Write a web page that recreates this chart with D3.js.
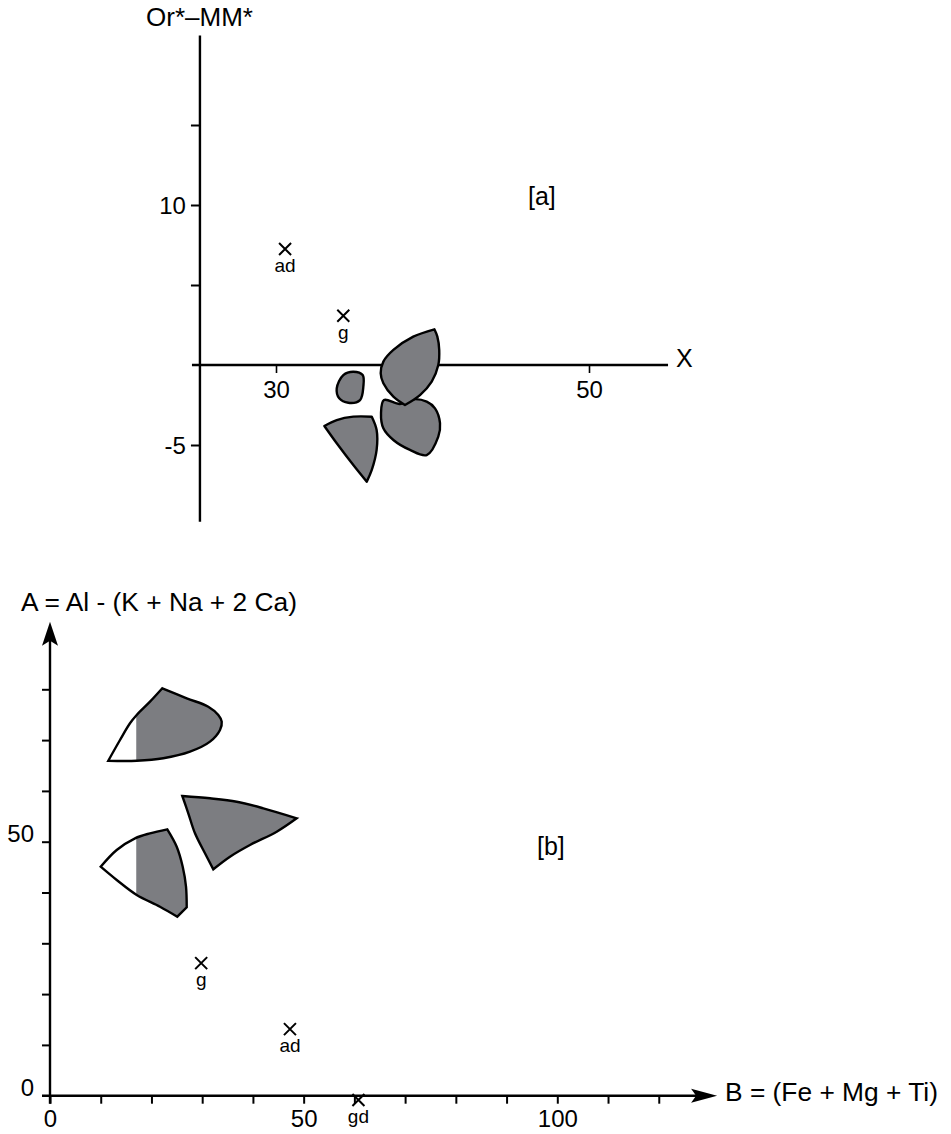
<!DOCTYPE html>
<html>
<head>
<meta charset="utf-8">
<script src="https://cdn.jsdelivr.net/npm/d3@7/dist/d3.min.js"></script>
<style>
  html, body { margin: 0; padding: 0; background: #fff; }
  svg { display: block; }
</style>
</head>
<body>
<svg id="chart" width="951" height="1134"></svg>
<script>
// ---------------- DATA ----------------
// Panel [a]
const aYTicks = [15, 10, 5, -5];
const aYTickLabels = [10, -5];
const aXTicks = [30, 50];
const aXTickLabels = [30, 50];
const aPointNames = ["ad", "g"];
const aPointX = [30.58, 34.3];
const aPointY = [7.25, 3.08];
// Blobs (edges of outlines, in data units X / Or*-MM*)
const aBlobUpper = [
  [[40.12, 2.23], [38.77, 1.77], [37.5, 0.94], [36.86, 0.21], [36.69, -0.52], [36.86, -1.14], [37.5, -1.98], [38.24, -2.5]],
  [[38.24, -2.5], [39.2, -1.88], [39.95, -1.04], [40.37, 0], [40.43, 0.94], [40.31, 1.77], [40.12, 2.23]]
];
const aBlobLowerRight = [[36.9, -2.19], [37.92, -2.44], [38.77, -2.14], [39.63, -2.29], [40.16, -2.71], [40.48, -3.64], [40.37, -4.48], [39.63, -5.63], [38.56, -5.31], [37.5, -4.69], [36.86, -3.96], [36.71, -3.02]];
const aBlobSmall = [[33.88, -1.46], [34.3, -0.63], [34.94, -0.42], [35.54, -0.63], [35.58, -1.36], [35.37, -2.19], [34.62, -2.36], [34.04, -2.08]];
const aBlobTriangle = [
  [[33.09, -3.81], [33.88, -3.44], [34.94, -3.23], [36.12, -3.23]],
  [[36.12, -3.23], [36.43, -4.06], [36.43, -5.31], [36.12, -6.56], [35.8, -7.29]],
  [[35.8, -7.29], [34.94, -6.25], [33.88, -4.89], [33.09, -3.81]]
];

// Panel [b]
const bYTicks = [0, 10, 20, 30, 40, 50, 60, 70, 80];
const bYTickLabels = [0, 50];
const bXTicks = [0, 10, 20, 30, 40, 50, 60, 70, 80, 90, 100, 110, 120];
const bXTickLabels = [0, 50, 100];
const bPointNames = ["g", "ad", "gd"];
const bPointX = [29.8, 47.3, 60.8];
const bPointY = [26.1, 13.1, -0.85];
const bSplitX = 17; // white part of the two split fields lies left of this B value
const bBlobTop = [
  [[22.14, 80.2], [26.95, 78.23], [31.2, 76.57], [33.18, 74.94], [33.85, 73.62], [33.51, 71.99], [31.54, 69.69], [27.6, 67.72], [22.33, 66.42], [17.09, 65.94], [11.49, 65.94]],
  [[11.49, 65.94], [13.8, 70.02], [15.77, 73.31], [17.09, 74.94], [19.71, 77.56], [22.14, 80.2]]
];
const bBlobMid = [
  [[26.08, 59.0], [31.54, 58.54], [36.8, 57.87], [42.05, 56.57], [48.63, 54.61]],
  [[48.63, 54.61], [44.69, 51.97], [39.42, 49.35], [35.48, 47.05], [32.19, 44.57]],
  [[32.19, 44.57], [30.55, 47.72], [28.58, 51.65], [27.26, 55.59], [26.08, 59.0]]
];
const bBlobLow = [
  [[23.12, 52.44], [19.71, 51.65], [16.76, 50.67], [13.15, 48.37], [9.99, 45.08]],
  [[9.99, 45.08], [13.15, 42.46], [17.09, 39.51], [21.68, 37.2], [25.09, 35.24]],
  [[25.09, 35.24], [26.95, 37.09]],
  [[26.95, 37.09], [26.81, 41.14], [26.16, 45.08], [24.98, 49.02], [23.12, 52.44]]
];

// ---------------- STYLE ----------------
const FONT = "'Liberation Sans', Arial, Helvetica, sans-serif";
const FILL = "#7c7d81";
const INK = "#000";

const svg = d3.select("#chart");

function edgesPath(edges, x, y) {
  const line = d3.line().x(d => x(d[0])).y(d => y(d[1])).curve(d3.curveCatmullRom.alpha(0.5));
  let s = "";
  edges.forEach((e, i) => {
    let p = line(e);
    if (i > 0) p = "L" + p.slice(1);
    s += p;
  });
  return s + "Z";
}
function closedPath(pts, x, y) {
  return d3.line().x(d => x(d[0])).y(d => y(d[1])).curve(d3.curveCatmullRomClosed.alpha(0.5))(pts);
}
function cross(g, cx, cy, r) {
  g.append("path")
    .attr("d", `M${cx - r},${cy - r}L${cx + r},${cy + r}M${cx - r},${cy + r}L${cx + r},${cy - r}`)
    .attr("stroke", INK).attr("stroke-width", 2).attr("fill", "none");
}

// ---------------- PANEL [a] ----------------
const xA = d3.scaleLinear().domain([30, 50]).range([276, 589]);
const yA = d3.scaleLinear().domain([0, 10]).range([365, 205]);
const gA = svg.append("g");

// blobs
[aBlobTriangle].forEach(edges => {
  gA.append("path").attr("d", edgesPath(edges, xA, yA))
    .attr("fill", FILL).attr("stroke", INK).attr("stroke-width", 2.4).attr("stroke-linejoin", "round");
});
[aBlobLowerRight, aBlobSmall].forEach(pts => {
  gA.append("path").attr("d", closedPath(pts, xA, yA))
    .attr("fill", FILL).attr("stroke", INK).attr("stroke-width", 2.4).attr("stroke-linejoin", "round");
});

// axes lines
gA.append("line")
  .attr("x1", xA(25.14)).attr("x2", xA(25.14))
  .attr("y1", yA(20.6)).attr("y2", yA(-9.8))
  .attr("stroke", INK).attr("stroke-width", 2.4);
gA.append("line")
  .attr("x1", xA(24.63)).attr("x2", xA(55.05))
  .attr("y1", yA(0)).attr("y2", yA(0))
  .attr("stroke", INK).attr("stroke-width", 2.6);

// upper blob drawn above the axis line and the lower-right blob
gA.append("path").attr("d", edgesPath(aBlobUpper, xA, yA))
  .attr("fill", FILL).attr("stroke", INK).attr("stroke-width", 2.4).attr("stroke-linejoin", "round");

// y axis ticks
const axA_y = gA.append("g").attr("transform", `translate(${xA(25.14)},0)`)
  .call(d3.axisLeft(yA).tickValues(aYTicks).tickSize(9).tickPadding(5)
    .tickFormat(d => aYTickLabels.includes(d) ? String(d) : ""));
axA_y.select(".domain").remove();
axA_y.selectAll(".tick line").attr("stroke", INK).attr("stroke-width", 2);
axA_y.selectAll(".tick text").attr("font-family", FONT).attr("font-size", 24).attr("fill", INK).attr("dy", "0.37em");

// x axis ticks
const axA_x = gA.append("g").attr("transform", `translate(0,${yA(0)})`)
  .call(d3.axisBottom(xA).tickValues(aXTicks).tickSize(8).tickPadding(8)
    .tickFormat(d => aXTickLabels.includes(d) ? String(d) : ""));
axA_x.select(".domain").remove();
axA_x.selectAll(".tick line").attr("stroke", INK).attr("stroke-width", 1.6);
axA_x.selectAll(".tick text").attr("font-family", FONT).attr("font-size", 24).attr("fill", INK);

// points
aPointNames.forEach((n, i) => {
  const cx = xA(aPointX[i]), cy = yA(aPointY[i]);
  cross(gA, cx, cy, 6);
  gA.append("text").attr("x", cx).attr("y", cy + 23).attr("text-anchor", "middle")
    .attr("font-family", FONT).attr("font-size", 19).attr("fill", INK).text(n);
});

// titles
gA.append("text").attr("x", 146).attr("y", 26).attr("font-family", FONT).attr("font-size", 25)
  .attr("textLength", 107).attr("lengthAdjust", "spacingAndGlyphs").attr("fill", INK).text("Or*–MM*");
gA.append("text").attr("x", xA(55.05) + 8).attr("y", yA(0) + 2).attr("font-family", FONT).attr("font-size", 25)
  .attr("fill", INK).text("X");
gA.append("text").attr("x", xA(46.1)).attr("y", yA(10)).attr("font-family", FONT).attr("font-size", 25)
  .attr("fill", INK).text("[a]");

// ---------------- PANEL [b] ----------------
const xB = d3.scaleLinear().domain([0, 100]).range([50, 557.3]);
const yB = d3.scaleLinear().domain([0, 50]).range([1095.7, 841.7]);
const gB = svg.append("g");

svg.append("defs").append("clipPath").attr("id", "splitClip")
  .append("rect").attr("x", xB(bSplitX)).attr("y", 0).attr("width", 951).attr("height", 1134);

// split fields: white + gray part
[bBlobTop, bBlobLow].forEach(edges => {
  const d = edgesPath(edges, xB, yB);
  gB.append("path").attr("d", d).attr("fill", "#fff");
  gB.append("path").attr("d", d).attr("fill", FILL).attr("clip-path", "url(#splitClip)");
  gB.append("path").attr("d", d).attr("fill", "none").attr("stroke", INK).attr("stroke-width", 2.4).attr("stroke-linejoin", "miter");
});
gB.append("path").attr("d", edgesPath(bBlobMid, xB, yB))
  .attr("fill", FILL).attr("stroke", INK).attr("stroke-width", 2.4).attr("stroke-linejoin", "miter");

// axis lines
gB.append("line")
  .attr("x1", xB(0)).attr("x2", xB(0))
  .attr("y1", yB(0) + 8).attr("y2", yB(90))
  .attr("stroke", INK).attr("stroke-width", 2.4);
gB.append("line")
  .attr("x1", xB(0) - 8).attr("x2", xB(129))
  .attr("y1", yB(0)).attr("y2", yB(0))
  .attr("stroke", INK).attr("stroke-width", 2.4);

// arrowheads
const yTipX = xB(0), yTipY = yB(93.3);
gB.append("path")
  .attr("d", `M${yTipX},${yTipY}L${yTipX + 8},${yTipY + 24}L${yTipX},${yTipY + 19}L${yTipX - 8},${yTipY + 24}Z`)
  .attr("fill", INK);
const xTipX = xB(131.5), xTipY = yB(0);
gB.append("path")
  .attr("d", `M${xTipX},${xTipY}L${xTipX - 26},${xTipY - 7}L${xTipX - 21},${xTipY}L${xTipX - 26},${xTipY + 7}Z`)
  .attr("fill", INK);

// ticks
const axB_y = gB.append("g").attr("transform", `translate(${xB(0)},0)`)
  .call(d3.axisLeft(yB).tickValues(bYTicks.filter(d => d !== 0)).tickSize(8).tickPadding(8)
    .tickFormat(d => bYTickLabels.includes(d) ? String(d) : ""));
axB_y.select(".domain").remove();
axB_y.selectAll(".tick line").attr("stroke", INK).attr("stroke-width", 2);
axB_y.selectAll(".tick text").attr("font-family", FONT).attr("font-size", 24).attr("fill", INK).attr("dy", "0em");
// label for 0 on the y axis
gB.append("text").attr("x", xB(0) - 16).attr("y", yB(0)).attr("text-anchor", "end")
  .attr("font-family", FONT).attr("font-size", 24).attr("fill", INK).text(String(bYTickLabels[0]));

const axB_x = gB.append("g").attr("transform", `translate(0,${yB(0)})`)
  .call(d3.axisBottom(xB).tickValues(bXTicks).tickSize(8).tickPadding(6.5)
    .tickFormat(d => bXTickLabels.includes(d) ? String(d) : ""));
axB_x.select(".domain").remove();
axB_x.selectAll(".tick line").attr("stroke", INK).attr("stroke-width", 2);
axB_x.selectAll(".tick text").attr("font-family", FONT).attr("font-size", 24).attr("fill", INK);

// points
bPointNames.forEach((n, i) => {
  const cx = xB(bPointX[i]), cy = yB(bPointY[i]);
  cross(gB, cx, cy, 6);
  gB.append("text").attr("x", cx).attr("y", cy + 23).attr("text-anchor", "middle")
    .attr("font-family", FONT).attr("font-size", 19).attr("fill", INK).text(n);
});

// titles
gB.append("text").attr("x", 21).attr("y", 611).attr("font-family", FONT).attr("font-size", 25)
  .attr("textLength", 276).attr("lengthAdjust", "spacingAndGlyphs").attr("fill", INK).text("A = Al - (K + Na + 2 Ca)");
gB.append("text").attr("x", 725).attr("y", 1101).attr("font-family", FONT).attr("font-size", 25)
  .attr("textLength", 213).attr("lengthAdjust", "spacingAndGlyphs").attr("fill", INK).text("B = (Fe + Mg + Ti)");
gB.append("text").attr("x", xB(96)).attr("y", yB(47.4)).attr("font-family", FONT).attr("font-size", 25)
  .attr("fill", INK).text("[b]");
</script>
</body>
</html>
